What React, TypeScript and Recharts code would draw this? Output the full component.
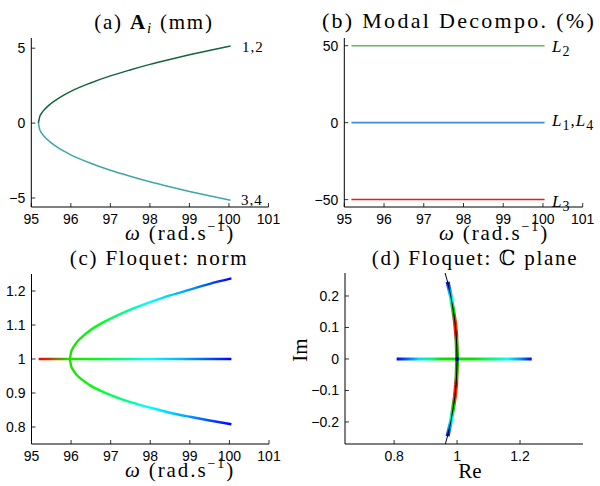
import React from 'react';
import { ComposedChart, Line, XAxis, YAxis, Scatter } from 'recharts';

// ---------------- data ----------------
const omegaTicks = [95, 96, 97, 98, 99, 100, 101];
const ampTicks = [-5, 0, 5];
const modalTicks = [-50, 0, 50];
const normTicks = [0.8, 0.9, 1, 1.1, 1.2];
const reTicks = [0.8, 1, 1.2];
const imTicks = [-0.2, -0.1, 0, 0.1, 0.2];

// (a) amplitudes
const ampOmega = [95.18, 95.21, 95.26, 95.34, 95.45, 95.6, 95.8, 96.0, 96.5, 97.0, 97.5, 98.0, 98.5, 99.0, 99.5, 100.04];
const amp12 = [0, 0.4, 0.66, 0.93, 1.2, 1.5, 1.84, 2.12, 2.68, 3.15, 3.55, 3.92, 4.25, 4.56, 4.85, 5.15];
const amp34 = [0, -0.4, -0.66, -0.93, -1.2, -1.5, -1.84, -2.12, -2.68, -3.15, -3.55, -3.92, -4.25, -4.56, -4.85, -5.15];

// (b) modal decomposition
const modalOmega = [95.18, 100.04];
const modalL2 = [50, 50];
const modalL14 = [0, 0];
const modalL3 = [-50, -50];

// (c) Floquet norms
const normOmega = [95.97, 96.0, 96.05, 96.15, 96.3, 96.5, 96.75, 97.0, 97.5, 98.0, 98.5, 99.0, 99.5, 100.05];
const normUpper = [1, 1.02, 1.033, 1.05, 1.067, 1.086, 1.104, 1.119, 1.145, 1.167, 1.187, 1.204, 1.221, 1.237];
const normLower = [1, 0.98, 0.968, 0.952, 0.937, 0.921, 0.906, 0.894, 0.873, 0.857, 0.842, 0.83, 0.819, 0.808];
const normFlatOmega = [95.18, 100.05];
const normFlat = [1, 1];

// (d) Floquet multipliers in complex plane
const circleRe = [0.962, 0.971, 0.98, 0.987, 0.993, 0.997, 0.999, 1, 0.999, 0.997, 0.993, 0.987, 0.98, 0.971, 0.962];
const circleIm = [0.273, 0.24, 0.2, 0.16, 0.12, 0.08, 0.04, 0, -0.04, -0.08, -0.12, -0.16, -0.2, -0.24, -0.273];
const multRe = [0.97, 0.98, 0.987, 0.993, 0.997, 0.999, 1, 0.999, 0.997, 0.993, 0.987, 0.98, 0.97];
const multIm = [0.245, 0.2, 0.16, 0.12, 0.08, 0.04, 0, -0.04, -0.08, -0.12, -0.16, -0.2, -0.245];
const realRe = [0.808, 1.237];
const realIm = [0, 0];
const centerRe = [1];
const centerIm = [0];

// colour maps (style)
const omegaStops: [number, string][] = [
  [95.18, '#ff0000'], [95.45, '#d03000'], [95.65, '#8c7a00'], [95.95, '#20e000'],
  [96.6, '#00ff10'], [97.4, '#00ff90'], [98.0, '#00ffff'], [98.8, '#00b4ff'],
  [99.5, '#0050ff'], [100.05, '#0000ff'],
];
const imStops: [number, string][] = [
  [0.245, '#0000ff'], [0.225, '#0078ff'], [0.195, '#00ffff'], [0.165, '#00e040'],
  [0.14, '#40a000'], [0.12, '#ff3000'], [0.08, '#e02000'], [0.06, '#60a000'], [0, '#00c000'],
  [-0.06, '#60a000'], [-0.08, '#e02000'], [-0.12, '#ff3000'], [-0.14, '#40a000'],
  [-0.165, '#00e040'], [-0.195, '#00ffff'], [-0.225, '#0078ff'], [-0.245, '#0000ff'],
];
const reStops: [number, string][] = [
  [0.808, '#0000ff'], [0.84, '#0064ff'], [0.88, '#00e0ff'], [0.92, '#00ff80'], [0.95, '#10e000'],
  [1.05, '#10e000'], [1.1, '#00ff60'], [1.16, '#00ffff'], [1.2, '#0096ff'], [1.237, '#0000ff'],
];

const zip = (xs: number[], ys: number[]) => xs.map((x, i) => ({ x, y: ys[i] }));

// ---------------- layout ----------------
const W = 300;
const H = 243;
const tickFont = { fill: '#000', fontSize: 14, fontFamily: "'Liberation Sans', Arial, sans-serif" };
const serif = "'Liberation Serif', 'DejaVu Serif', serif";
const fmt = (v: number) => String(v).replace('-', '\u2212');

const domA: [number, number] = [-5.6, 5.68];
const domB: [number, number] = [-54.8, 55];
const domC: [number, number] = [0.75, 1.25];
const domDx: [number, number] = [0.644, 1.4];
const domDy: [number, number] = [-0.27, 0.273];
const domW: [number, number] = [95, 101];

// plot areas in each chart's own svg space
const plotC = { left: 31.5, right: 269, top: 31, bottom: 201 };
const plotD = { left: 45, right: 283, top: 30, bottom: 201 };

function HGrad({ id, stops, dom, x1, x2 }: { id: string; stops: [number, string][]; dom: [number, number]; x1: number; x2: number }) {
  return (
    <linearGradient id={id} gradientUnits="userSpaceOnUse" x1={x1} y1={0} x2={x2} y2={0}>
      {stops.map(([v, c], i) => (
        <stop key={i} offset={(v - dom[0]) / (dom[1] - dom[0])} stopColor={c} />
      ))}
    </linearGradient>
  );
}
function VGrad({ id, stops, dom, y1, y2 }: { id: string; stops: [number, string][]; dom: [number, number]; y1: number; y2: number }) {
  return (
    <linearGradient id={id} gradientUnits="userSpaceOnUse" x1={0} y1={y1} x2={0} y2={y2}>
      {stops.map(([v, c], i) => (
        <stop key={i} offset={(dom[1] - v) / (dom[1] - dom[0])} stopColor={c} />
      ))}
    </linearGradient>
  );
}

function xAxis(domain: [number, number], ticks: number[], height: number) {
  return (
    <XAxis
      type="number"
      dataKey="x"
      domain={domain}
      ticks={ticks}
      allowDataOverflow
      interval={0}
      height={height}
      tickSize={-4}
      tickMargin={11}
      tick={tickFont}
      tickFormatter={fmt}
      tickLine={{ stroke: '#000', strokeWidth: 0.8 }}
      axisLine={{ stroke: '#000', strokeWidth: 1 }}
    />
  );
}
function yAxis(domain: [number, number], ticks: number[], width: number) {
  return (
    <YAxis
      type="number"
      domain={domain}
      ticks={ticks}
      allowDataOverflow
      interval={0}
      width={width}
      tickSize={-4}
      tickMargin={10}
      tick={tickFont}
      tickFormatter={fmt}
      tickLine={{ stroke: '#000', strokeWidth: 0.8 }}
      axisLine={{ stroke: '#000', strokeWidth: 1 }}
    />
  );
}

const lineProps = { dot: false, activeDot: false, isAnimationActive: false, dataKey: 'y' } as const;

function OmegaLabel({ x, y }: { x: number; y: number }) {
  return (
    <text x={x} y={y} textAnchor="middle" fontFamily={serif} fontSize={21} letterSpacing={1.9} fill="#000">
      <tspan fontStyle="italic">ω</tspan>
      <tspan> (rad.s</tspan>
      <tspan fontSize={14} dy={-9}>−1</tspan>
      <tspan dy={9}>)</tspan>
    </text>
  );
}

export default function App() {
  return (
    <div style={{ position: 'absolute', left: 0, top: 0, width: 600, height: 486, background: '#fff' }}>
      <svg width={0} height={0} style={{ position: 'absolute' }}>
        <defs>
          <HGrad id="gradOmega" stops={omegaStops} dom={domW} x1={plotC.left} x2={plotC.right} />
          <VGrad id="gradIm" stops={imStops} dom={domDy} y1={plotD.top} y2={plotD.bottom} />
          <HGrad id="gradRe" stops={reStops} dom={domDx} x1={plotD.left} x2={plotD.right} />
        </defs>
      </svg>

      {/* (a) */}
      <div style={{ position: 'absolute', left: 0, top: 0 }}>
        <ComposedChart width={W} height={H} margin={{ top: 38, right: 31.5, left: 0, bottom: 0 }}>
          {xAxis(domW, omegaTicks, 36)}
          {yAxis(domA, ampTicks, 31.3)}
          <Line {...lineProps} data={zip(ampOmega, amp34)} type="monotone" stroke="#3fa6a6" strokeWidth={1.5} />
          <Line {...lineProps} data={zip(ampOmega, amp12)} type="monotone" stroke="#14653c" strokeWidth={1.5} />
        </ComposedChart>
      </div>

      {/* (b) */}
      <div style={{ position: 'absolute', left: 300, top: 0 }}>
        <ComposedChart width={W} height={H} margin={{ top: 38, right: 17.3, left: 0, bottom: 0 }}>
          {xAxis(domW, omegaTicks, 36)}
          {yAxis(domB, modalTicks, 44.3)}
          <Line {...lineProps} data={zip(modalOmega, modalL2)} type="linear" stroke="#62b862" strokeWidth={1.5} />
          <Line {...lineProps} data={zip(modalOmega, modalL14)} type="linear" stroke="#3a8ed6" strokeWidth={1.6} />
          <Line {...lineProps} data={zip(modalOmega, modalL3)} type="linear" stroke="#ee1a1a" strokeWidth={1.5} />
        </ComposedChart>
      </div>

      {/* (c) */}
      <div style={{ position: 'absolute', left: 0, top: 243 }}>
        <ComposedChart width={W} height={H} margin={{ top: plotC.top, right: W - plotC.right, left: 0, bottom: 0 }}>
          {xAxis(domW, omegaTicks, H - plotC.bottom)}
          {yAxis(domC, normTicks, plotC.left)}
          <Line {...lineProps} data={zip(normFlatOmega, normFlat)} type="linear" stroke="url(#gradOmega)" strokeWidth={2.6} />
          <Line {...lineProps} data={zip(normOmega, normUpper)} type="monotone" stroke="url(#gradOmega)" strokeWidth={2.4} />
          <Line {...lineProps} data={zip(normOmega, normLower)} type="monotone" stroke="url(#gradOmega)" strokeWidth={2.4} />
        </ComposedChart>
      </div>

      {/* (d) */}
      <div style={{ position: 'absolute', left: 300, top: 243 }}>
        <ComposedChart width={W} height={H} margin={{ top: plotD.top, right: W - plotD.right, left: 0, bottom: 0 }}>
          {xAxis(domDx, reTicks, H - plotD.bottom)}
          {yAxis(domDy, imTicks, plotD.left)}
          <Line {...lineProps} data={zip(realRe, realIm)} type="linear" stroke="url(#gradRe)" strokeWidth={3} />
          <Line {...lineProps} data={zip(multRe, multIm)} type="linear" stroke="url(#gradIm)" strokeWidth={4} />
          <Line {...lineProps} data={zip(circleRe, circleIm)} type="linear" stroke="#000" strokeWidth={1} />
          <Scatter
            data={zip(centerRe, centerIm)}
            dataKey="y"
            isAnimationActive={false}
            shape={(p: any) => <circle cx={p.cx} cy={p.cy} r={2} fill="#0000b0" />}
          />
        </ComposedChart>
      </div>

      {/* texts */}
      <svg width={600} height={486} style={{ position: 'absolute', left: 0, top: 0, pointerEvents: 'none' }}>
        <text x={154} y={29} textAnchor="middle" fontFamily={serif} fontSize={21} letterSpacing={1.8} fill="#000">
          (a) <tspan fontWeight="bold">A</tspan>
          <tspan fontStyle="italic" fontSize={15} dy={4}>i</tspan>
          <tspan dy={-4}> (mm)</tspan>
        </text>
        <text x={459} y={28} textAnchor="middle" fontFamily={serif} fontSize={22} letterSpacing={2.3} fill="#000">
          (b) Modal Decompo. (%)
        </text>
        <text x={159} y={265} textAnchor="middle" fontFamily={serif} fontSize={21} letterSpacing={1.8} fill="#000">
          (c) Floquet: norm
        </text>
        <text x={475} y={265} textAnchor="middle" fontFamily={serif} fontSize={21} letterSpacing={1.7} fill="#000">
          (d) Floquet: ℂ plane
        </text>

        <OmegaLabel x={180} y={240} />
        <OmegaLabel x={494} y={240} />
        <OmegaLabel x={180} y={477} />
        <text x={470} y={478} textAnchor="middle" fontFamily={serif} fontSize={21} fill="#000">Re</text>
        <text transform="translate(307,350) rotate(-90)" x={0} y={0} textAnchor="middle" fontFamily={serif} fontSize={21} fill="#000">Im</text>

        <text x={242} y={52} fontFamily={serif} fontSize={15} letterSpacing={1} fill="#000">1,2</text>
        <text x={241} y={205} fontFamily={serif} fontSize={15} letterSpacing={1} fill="#000">3,4</text>

        <text x={552} y={52} fontFamily={serif} fontSize={17} fontStyle="italic" fill="#000" letterSpacing={1}>
          L<tspan fontSize={14} fontStyle="normal" dy={4}>2</tspan>
        </text>
        <text x={552} y={126} fontFamily={serif} fontSize={17} fontStyle="italic" fill="#000" letterSpacing={1}>
          L<tspan fontSize={14} fontStyle="normal" dy={4}>1</tspan>
          <tspan fontStyle="normal" dy={-4}>,</tspan>L<tspan fontSize={14} fontStyle="normal" dy={4}>4</tspan>
        </text>
        <text x={552} y={207} fontFamily={serif} fontSize={17} fontStyle="italic" fill="#000" letterSpacing={1}>
          L<tspan fontSize={14} fontStyle="normal" dy={4}>3</tspan>
        </text>
      </svg>
    </div>
  );
}
